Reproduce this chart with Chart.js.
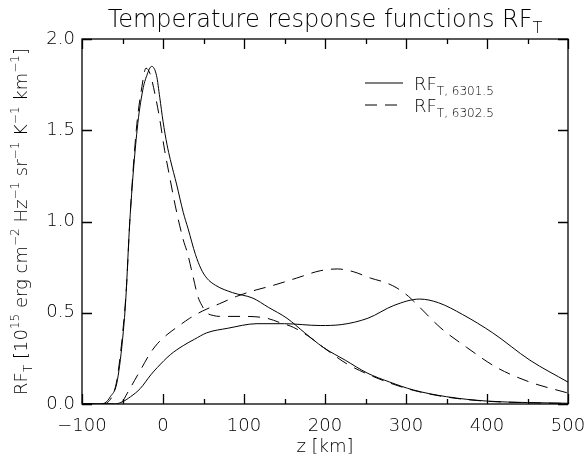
<!DOCTYPE html>
<html>
<head>
<meta charset="utf-8">
<script src="https://cdn.jsdelivr.net/npm/chart.js@4.4.1/dist/chart.umd.min.js"></script>
<style>
  html, body { margin: 0; padding: 0; background: #fff; }
  #wrap { width: 587px; height: 461px; }
</style>
</head>
<body>
<div id="wrap"><canvas id="rfChart" width="587" height="461"></canvas></div>
<script>
// RF_T 6301.5, main peak (solid)
const zPeak6301 = [-100, -80, -72, -65, -57, -50, -46, -41, -32, -25, -20, -14, -8, -4, 0, 5, 9, 17, 25, 31, 40, 47, 54, 65, 86, 111, 130, 153, 175, 198, 225, 252, 280, 309, 350, 400, 450, 500];
const rfPeak6301 = [0, 0, 0.005, 0.04, 0.115, 0.35, 0.57, 1.0, 1.5, 1.72, 1.80, 1.85, 1.80, 1.68, 1.55, 1.42, 1.34, 1.20, 1.05, 0.96, 0.82, 0.74, 0.69, 0.65, 0.61, 0.58, 0.53, 0.47, 0.39, 0.31, 0.24, 0.17, 0.12, 0.077, 0.04, 0.016, 0.008, 0.004];

// RF_T 6302.5, main peak (dashed)
const zPeak6302 = [-100, -75, -68, -62, -57, -50, -45, -41, -33, -26, -21, -16, -10, -4, 2, 8, 15, 25, 30, 37, 43, 48, 54, 62, 70, 99, 128, 145, 161, 180, 198, 227, 252, 280, 309, 350, 400, 450, 500];
const rfPeak6302 = [0, 0, 0.01, 0.05, 0.13, 0.38, 0.65, 1.0, 1.5, 1.74, 1.84, 1.81, 1.70, 1.56, 1.39, 1.25, 1.09, 0.90, 0.83, 0.70, 0.59, 0.54, 0.50, 0.485, 0.48, 0.48, 0.47, 0.445, 0.42, 0.37, 0.31, 0.22, 0.165, 0.115, 0.075, 0.038, 0.015, 0.007, 0.003];

// RF_T 6301.5, second curve (solid)
const zLow6301 = [-100, -60, -51, -40, -28, -15, -7, 9, 25, 39, 54, 80, 116, 150, 194, 220, 253, 285, 317, 340, 370, 407, 453, 500];
const rfLow6301 = [0, 0, 0.01, 0.04, 0.085, 0.16, 0.20, 0.27, 0.32, 0.355, 0.39, 0.415, 0.44, 0.44, 0.43, 0.435, 0.47, 0.54, 0.575, 0.555, 0.49, 0.39, 0.24, 0.12];

// RF_T 6302.5, second curve (dashed)
const zLow6302 = [-100, -60, -51, -44, -35, -26, -17, -7, 5, 17, 33, 49, 70, 91, 115, 136, 165, 194, 215, 235, 256, 275, 289, 303, 317, 342, 375, 412, 453, 500];
const rfLow6302 = [0, 0, 0.01, 0.06, 0.13, 0.20, 0.27, 0.33, 0.38, 0.42, 0.47, 0.51, 0.55, 0.59, 0.625, 0.65, 0.69, 0.73, 0.74, 0.725, 0.69, 0.665, 0.635, 0.59, 0.53, 0.42, 0.31, 0.20, 0.12, 0.06];

const xTicks = [-100, 0, 100, 200, 300, 400, 500];
const yTicks = [0.0, 0.5, 1.0, 1.5, 2.0];

const FONT = '"DejaVu Sans", "Liberation Sans", sans-serif';
const WEIGHT = '200';
const DASH = [12, 8];

function pts(zs, vs) {
    return zs.map((z, i) => ({ x: z, y: vs[i] }));
}

function curve(zs, vs, dashed) {
    return {
        data: pts(zs, vs),
        borderColor: '#000',
        borderWidth: 1,
        borderDash: dashed ? DASH : [],
        pointRadius: 0,
        fill: false,
        cubicInterpolationMode: 'monotone'
    };
}

// text runs: [text, 'n'|'sub'|'sup']
function smallSize(size) { return Math.round(size * 0.66); }

function richWidth(ctx, parts, size) {
    let w = 0;
    parts.forEach(p => {
        const s = p[1] === 'n' ? size : smallSize(size);
        ctx.font = WEIGHT + ' ' + s + 'px ' + FONT;
        w += ctx.measureText(p[0]).width;
    });
    return w;
}

function drawRich(ctx, parts, x, y, size) {
    let cx = x;
    ctx.textBaseline = 'alphabetic';
    ctx.textAlign = 'left';
    parts.forEach(p => {
        let s = size, dy = 0;
        if (p[1] === 'sub') { s = smallSize(size); dy = size * 0.25; }
        if (p[1] === 'sup') { s = smallSize(size); dy = -size * 0.42; }
        ctx.font = WEIGHT + ' ' + s + 'px ' + FONT;
        ctx.fillText(p[0], cx, y + dy);
        cx += ctx.measureText(p[0]).width;
    });
}

const titleParts = [['Temperature response functions RF', 'n'], ['T', 'sub']];
const yLabelParts = [
    ['RF', 'n'], ['T', 'sub'], [' [10', 'n'], ['15', 'sup'], [' erg cm', 'n'], ['\u22122', 'sup'],
    [' Hz', 'n'], ['\u22121', 'sup'], [' sr', 'n'], ['\u22121', 'sup'], [' K', 'n'], ['\u22121', 'sup'],
    [' km', 'n'], ['\u22121', 'sup'], [']', 'n']
];
const legendItems = [
    { parts: [['RF', 'n'], ['T, 6301.5', 'sub']], dashed: false },
    { parts: [['RF', 'n'], ['T, 6302.5', 'sub']], dashed: true }
];

const idlFrame = {
    id: 'idlFrame',
    afterDraw(chart) {
        const ctx = chart.ctx;
        const a = chart.chartArea;
        const xs = chart.scales.x, ys = chart.scales.y;
        ctx.save();
        ctx.strokeStyle = '#000';
        ctx.fillStyle = '#000';
        ctx.lineWidth = 1.3;
        ctx.setLineDash([]);
        ctx.strokeRect(a.left, a.top, a.right - a.left, a.bottom - a.top);

        // inward ticks
        ctx.beginPath();
        for (let v = -100; v <= 500; v += 50) {
            const px = Math.round(xs.getPixelForValue(v)) + 0.5;
            const len = (v % 100 === 0) ? 10 : 5;
            ctx.moveTo(px, a.bottom); ctx.lineTo(px, a.bottom - len);
            ctx.moveTo(px, a.top); ctx.lineTo(px, a.top + len);
        }
        yTicks.forEach(v => {
            const py = Math.round(ys.getPixelForValue(v)) + 0.5;
            ctx.moveTo(a.left, py); ctx.lineTo(a.left + 10, py);
            ctx.moveTo(a.right, py); ctx.lineTo(a.right - 10, py);
        });
        ctx.stroke();

        // title
        const tSize = 24;
        const tw = richWidth(ctx, titleParts, tSize);
        drawRich(ctx, titleParts, (a.left + a.right) / 2 - tw / 2, 27, tSize);

        // x label
        ctx.font = WEIGHT + ' 18px ' + FONT;
        ctx.textAlign = 'center';
        ctx.textBaseline = 'alphabetic';
        ctx.fillText('z [km]', (a.left + a.right) / 2, 452);

        // y label (rotated)
        const ySize = 18;
        const yw = richWidth(ctx, yLabelParts, ySize);
        ctx.save();
        ctx.translate(27, (a.top + a.bottom) / 2);
        ctx.rotate(-Math.PI / 2);
        drawRich(ctx, yLabelParts, -yw / 2, 0, ySize);
        ctx.restore();

        // legend
        legendItems.forEach((it, i) => {
            const ly = 83 + i * 22;
            ctx.beginPath();
            ctx.lineWidth = 1;
            ctx.setLineDash(it.dashed ? DASH : []);
            ctx.moveTo(365, ly); ctx.lineTo(403, ly);
            ctx.stroke();
            ctx.setLineDash([]);
            drawRich(ctx, it.parts, 414, ly + 7, 18);
        });
        ctx.restore();
    }
};

new Chart(document.getElementById('rfChart'), {
    type: 'line',
    data: {
        datasets: [
            curve(zPeak6301, rfPeak6301, false),
            curve(zPeak6302, rfPeak6302, true),
            curve(zLow6301, rfLow6301, false),
            curve(zLow6302, rfLow6302, true)
        ]
    },
    options: {
        responsive: false,
        animation: false,
        devicePixelRatio: 1,
        layout: { padding: { left: 0, right: 19, top: 39, bottom: 0 } },
        plugins: { legend: { display: false }, title: { display: false }, tooltip: { enabled: false } },
        scales: {
            x: {
                type: 'linear',
                min: -100,
                max: 500,
                afterFit(scale) {
                    scale.height = 57;
                    scale.paddingLeft = 0;
                    scale.paddingRight = 0;
                },
                afterBuildTicks(scale) { scale.ticks = xTicks.map(v => ({ value: v })); },
                grid: { display: false, drawTicks: false },
                border: { display: false },
                ticks: {
                    color: '#000',
                    padding: 12,
                    maxRotation: 0,
                    font: { family: FONT, size: 18, weight: WEIGHT },
                    callback: v => (v < 0 ? '\u2212' + Math.abs(v) : String(v))
                }
            },
            y: {
                min: 0,
                max: 2,
                afterFit(scale) {
                    scale.width = 82;
                    scale.paddingTop = 0;
                    scale.paddingBottom = 0;
                },
                afterBuildTicks(scale) { scale.ticks = yTicks.map(v => ({ value: v })); },
                grid: { display: false, drawTicks: false },
                border: { display: false },
                ticks: {
                    color: '#000',
                    padding: 7,
                    font: { family: FONT, size: 18, weight: WEIGHT },
                    callback: v => Number(v).toFixed(1)
                }
            }
        }
    },
    plugins: [idlFrame]
});
</script>
</body>
</html>
